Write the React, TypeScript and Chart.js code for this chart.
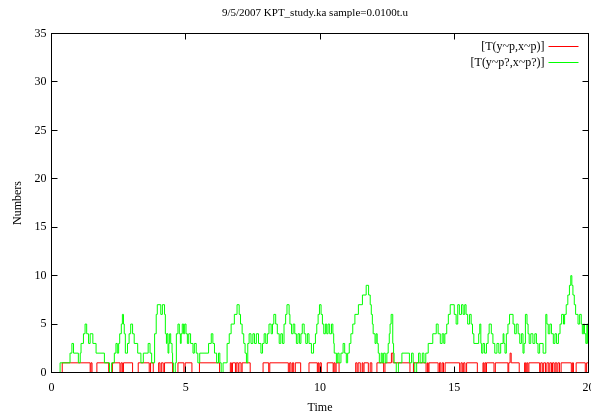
import React, { useEffect, useRef } from "react";
import { Chart, registerables } from "chart.js";

Chart.register(...registerables);

const chartTitle = "9/5/2007 KPT_study.ka sample=0.0100t.u";
const xAxisTitle = "Time";
const yAxisTitle = "Numbers";
const seriesNames = ["[T(y~p,x~p)]", "[T(y~p?,x~p?)]"];
const seriesColors = ["#ff0000", "#00ff00"];
const xTickValues = [0, 5, 10, 15, 20];
const yTickValues = [0, 5, 10, 15, 20, 25, 30, 35];
const xMax = 20;

const redTimes = [
  0, 0.4, 1.44, 1.47, 1.51, 1.69, 2.13, 2.27, 2.55, 2.59,
  2.64, 2.68, 3.02, 3.23, 3.64, 3.69, 3.79, 3.99, 4.04, 4.09,
  4.16, 4.21, 4.51, 4.71, 4.93, 4.98, 5.23, 5.51, 6.26, 6.66,
  6.7, 6.74, 6.85, 6.88, 6.95, 6.98, 7.06, 7.1, 7.4, 7.88,
  8.09, 8.13, 8.82, 8.87, 8.92, 8.97, 9.02, 9.08, 9.28, 9.59,
  9.9, 9.93, 9.96, 10.0, 10.05, 10.27, 10.49, 10.52, 10.56, 10.6,
  10.71, 11.33, 11.38, 11.42, 11.5, 11.57, 11.6, 11.64, 11.8, 11.87,
  11.93, 12.12, 12.37, 12.42, 12.66, 12.72, 13.35, 13.48, 13.95, 14.0,
  14.03, 14.06, 14.4, 14.45, 14.5, 14.55, 14.6, 14.66, 15.2, 15.25,
  15.3, 15.35, 15.4, 15.46, 15.86, 16.07, 16.1, 16.14, 16.18, 16.2,
  16.48, 16.53, 17.0, 17.03, 17.08, 17.12, 17.42, 17.62, 17.66, 17.7,
  17.74, 17.78, 18.18, 18.22, 18.28, 18.33, 18.4, 18.45, 18.52, 18.56,
  18.62, 18.66, 18.72, 18.76, 18.82, 18.86, 18.92, 18.98, 19.36, 19.4,
  19.44, 19.54, 19.88, 19.93,
];
const redValues = [
  0, 1, 0, 1, 0, 1, 0, 1, 0, 1,
  0, 1, 0, 1, 0, 1, 0, 1, 0, 1,
  0, 1, 0, 1, 0, 1, 0, 1, 0, 1,
  0, 1, 0, 1, 0, 1, 0, 1, 0, 1,
  0, 1, 0, 1, 0, 1, 0, 1, 0, 1,
  0, 1, 0, 1, 0, 1, 0, 1, 0, 1,
  0, 1, 0, 1, 0, 1, 0, 1, 0, 1,
  0, 1, 0, 1, 2, 1, 0, 1, 0, 1,
  0, 1, 0, 1, 0, 1, 0, 1, 0, 1,
  0, 1, 0, 1, 0, 1, 0, 1, 0, 1,
  0, 1, 0, 1, 2, 1, 0, 1, 0, 1,
  0, 1, 0, 1, 0, 1, 0, 1, 0, 1,
  0, 1, 0, 1, 0, 1, 0, 1, 0, 1,
  0, 1, 0, 1,
];

const greenTimes = [
  0, 0.32, 0.69, 0.76, 0.82, 1.0, 1.07, 1.1, 1.19, 1.25,
  1.31, 1.38, 1.44, 1.54, 1.66, 1.97, 2.16, 2.24, 2.34, 2.4,
  2.45, 2.5, 2.54, 2.6, 2.64, 2.68, 2.71, 2.75, 2.83, 2.89,
  2.95, 3.02, 3.08, 3.21, 3.33, 3.42, 3.6, 3.67, 3.73, 3.84,
  3.9, 3.94, 4.07, 4.13, 4.21, 4.24, 4.28, 4.3, 4.34, 4.37,
  4.4, 4.44, 4.49, 4.51, 4.54, 4.61, 4.65, 4.71, 4.76, 4.8,
  4.83, 4.87, 4.92, 4.96, 5.01, 5.06, 5.11, 5.18, 5.27, 5.32,
  5.39, 5.45, 5.52, 5.85, 5.95, 6.01, 6.07, 6.15, 6.22, 6.27,
  6.32, 6.39, 6.54, 6.62, 6.69, 6.81, 6.91, 6.99, 7.04, 7.1,
  7.16, 7.21, 7.26, 7.31, 7.36, 7.43, 7.5, 7.56, 7.63, 7.71,
  7.8, 7.86, 7.92, 7.98, 8.04, 8.1, 8.18, 8.23, 8.28, 8.35,
  8.41, 8.48, 8.54, 8.6, 8.66, 8.72, 8.77, 8.85, 8.88, 8.94,
  9.0, 9.06, 9.12, 9.18, 9.24, 9.29, 9.34, 9.41, 9.47, 9.53,
  9.59, 9.68, 9.76, 9.83, 9.88, 9.93, 9.98, 10.04, 10.09, 10.14,
  10.2, 10.25, 10.3, 10.36, 10.43, 10.48, 10.51, 10.53, 10.61, 10.66,
  10.71, 10.78, 10.86, 10.92, 10.98, 11.03, 11.09, 11.15, 11.22, 11.3,
  11.43, 11.58, 11.72, 11.81, 11.87, 11.91, 11.95, 11.98, 12.05, 12.09,
  12.13, 12.17, 12.21, 12.28, 12.32, 12.37, 12.43, 12.49, 12.54, 12.58,
  12.61, 12.65, 12.71, 12.74, 12.76, 12.84, 12.92, 13.05, 13.33, 13.41,
  13.47, 13.53, 13.6, 13.67, 13.73, 13.81, 13.87, 13.94, 14.03, 14.2,
  14.33, 14.4, 14.48, 14.55, 14.61, 14.65, 14.72, 14.78, 14.85, 15.0,
  15.07, 15.13, 15.19, 15.27, 15.33, 15.39, 15.44, 15.5, 15.57, 15.63,
  15.68, 15.73, 15.91, 15.95, 15.99, 16.02, 16.07, 16.13, 16.2, 16.26,
  16.3, 16.38, 16.44, 16.51, 16.59, 16.66, 16.73, 16.82, 16.85, 16.89,
  16.94, 17.0, 17.06, 17.19, 17.25, 17.31, 17.38, 17.44, 17.5, 17.56,
  17.6, 17.65, 17.71, 17.75, 17.79, 17.85, 17.93, 18.0, 18.06, 18.12,
  18.18, 18.31, 18.41, 18.45, 18.5, 18.56, 18.62, 18.69, 18.75, 18.81,
  18.88, 18.94, 19.0, 19.07, 19.11, 19.17, 19.23, 19.29, 19.34, 19.38,
  19.42, 19.47, 19.52, 19.61, 19.67, 19.73, 19.77, 19.82, 19.85, 19.9,
  19.94, 19.97,
];
const greenValues = [
  0, 1, 2, 3, 2, 1, 2, 3, 4, 5,
  4, 3, 4, 3, 2, 1, 0, 1, 2, 3,
  2, 3, 4, 5, 6, 5, 4, 2, 3, 4,
  5, 4, 3, 2, 1, 2, 3, 2, 1, 4,
  6, 7, 6, 7, 6, 4, 3, 4, 2, 3,
  4, 3, 2, 1, 0, 1, 4, 5, 4, 3,
  4, 5, 4, 5, 4, 3, 4, 3, 2, 3,
  2, 1, 2, 3, 4, 3, 2, 1, 2, 1,
  0, 1, 3, 4, 5, 6, 7, 6, 5, 4,
  3, 2, 1, 3, 4, 3, 4, 3, 4, 3,
  2, 3, 4, 3, 4, 5, 4, 5, 6, 5,
  4, 3, 4, 3, 5, 6, 7, 6, 5, 4,
  5, 4, 3, 4, 3, 4, 5, 4, 3, 4,
  3, 2, 3, 4, 5, 6, 7, 6, 5, 4,
  5, 4, 5, 4, 5, 4, 3, 2, 1, 2,
  1, 2, 3, 2, 1, 2, 3, 4, 5, 6,
  7, 8, 9, 8, 7, 6, 5, 4, 3, 4,
  3, 2, 1, 2, 1, 2, 1, 2, 3, 4,
  5, 6, 3, 2, 1, 0, 1, 2, 1, 2,
  1, 0, 1, 2, 1, 2, 1, 2, 3, 4,
  5, 4, 3, 4, 3, 4, 5, 6, 7, 6,
  5, 7, 6, 7, 6, 7, 6, 5, 6, 5,
  4, 3, 4, 5, 3, 2, 3, 2, 3, 4,
  5, 4, 3, 2, 3, 2, 3, 4, 3, 2,
  4, 5, 6, 5, 4, 5, 4, 3, 4, 2,
  3, 6, 5, 4, 3, 4, 3, 4, 3, 2,
  3, 2, 6, 5, 4, 5, 4, 3, 4, 3,
  4, 5, 6, 5, 6, 7, 8, 9, 10, 9,
  8, 7, 6, 5, 6, 5, 4, 5, 4, 3,
  5, 3,
];

const FONT_FAMILY = '"Liberation Serif", "DejaVu Serif", serif';

function toPoints(times: number[], values: number[]) {
  const pts = times.map((t, i) => ({ x: t, y: values[i] }));
  pts.push({ x: xMax, y: values[values.length - 1] });
  return pts;
}

const framePlugin = {
  id: "gnuplotFrame",
  afterDatasetsDraw(chart: any) {
    const { ctx, chartArea, scales } = chart;
    const { left, top, right, bottom } = chartArea;
    const xs = scales.x;
    const ys = scales.y;
    ctx.save();
    ctx.strokeStyle = "#000";
    ctx.lineWidth = 1;
    ctx.strokeRect(left, top, right - left, bottom - top);
    ctx.beginPath();
    xTickValues.forEach((v) => {
      const px = Math.round(xs.getPixelForValue(v) - 0.5) + 0.5;
      ctx.moveTo(px, bottom);
      ctx.lineTo(px, bottom - 6);
      ctx.moveTo(px, top);
      ctx.lineTo(px, top + 6);
    });
    yTickValues.forEach((v) => {
      const py = Math.round(ys.getPixelForValue(v) - 0.5) + 0.5;
      ctx.moveTo(left, py);
      ctx.lineTo(left + 6, py);
      ctx.moveTo(right, py);
      ctx.lineTo(right - 6, py);
    });
    ctx.stroke();

    ctx.fillStyle = "#000";
    ctx.font = `11px ${FONT_FAMILY}`;
    ctx.textAlign = "center";
    ctx.textBaseline = "middle";
    ctx.fillText(chartTitle, 315, 13);

    ctx.font = `12px ${FONT_FAMILY}`;
    ctx.textAlign = "right";
    seriesNames.forEach((name, i) => {
      const ly = 46.5 + 16 * i;
      ctx.fillStyle = "#000";
      ctx.fillText(name, right - 44, ly);
      ctx.strokeStyle = seriesColors[i];
      ctx.beginPath();
      ctx.moveTo(right - 40, ly);
      ctx.lineTo(right - 10, ly);
      ctx.stroke();
    });
    ctx.restore();
  },
};

export default function App() {
  const canvasRef = useRef<HTMLCanvasElement | null>(null);

  useEffect(() => {
    if (!canvasRef.current) return;
    const font = { family: FONT_FAMILY, size: 12 };
    const chart = new Chart(canvasRef.current, {
      type: "line",
      data: {
        datasets: [
          {
            label: seriesNames[0],
            data: toPoints(redTimes, redValues),
            borderColor: seriesColors[0],
            borderWidth: 1,
            pointRadius: 0,
            stepped: "before",
            fill: false,
            order: 2,
          },
          {
            label: seriesNames[1],
            data: toPoints(greenTimes, greenValues),
            borderColor: seriesColors[1],
            borderWidth: 1,
            pointRadius: 0,
            stepped: "before",
            fill: false,
            order: 1,
          },
        ],
      },
      options: {
        animation: false,
        responsive: false,
        devicePixelRatio: 1,
        parsing: false,
        normalized: true,
        layout: { padding: { top: 33.5, right: 2.5, left: 0, bottom: 0 } },
        plugins: {
          legend: { display: false },
          title: { display: false },
          tooltip: { enabled: false },
        },
        scales: {
          x: {
            type: "linear",
            min: 0,
            max: xMax,
            afterBuildTicks: (s: any) => {
              s.ticks = xTickValues.map((v) => ({ value: v }));
            },
            afterFit: (s: any) => {
              s.height = 44.5;
              s.paddingLeft = 0;
              s.paddingRight = 0;
            },
            grid: { display: false, drawTicks: false },
            border: { display: false },
            ticks: {
              font,
              color: "#000",
              padding: 8,
              maxRotation: 0,
              autoSkip: false,
              callback: (v: any) => String(v),
            },
            title: {
              display: true,
              text: xAxisTitle,
              font,
              color: "#000",
              padding: { top: 0, bottom: 2 },
            },
          },
          y: {
            type: "linear",
            min: 0,
            max: 35,
            afterBuildTicks: (s: any) => {
              s.ticks = yTickValues.map((v) => ({ value: v }));
            },
            afterFit: (s: any) => {
              s.width = 51.5;
              s.paddingTop = 0;
              s.paddingBottom = 0;
            },
            grid: { display: false, drawTicks: false },
            border: { display: false },
            ticks: {
              font,
              color: "#000",
              padding: 5,
              autoSkip: false,
              callback: (v: any) => String(v),
            },
            title: {
              display: true,
              text: yAxisTitle,
              font,
              color: "#000",
              padding: { top: 11, bottom: 0 },
            },
          },
        },
      },
      plugins: [framePlugin],
    } as any);
    return () => chart.destroy();
  }, []);

  return (
    <div style={{ position: "fixed", left: 0, top: 0, width: 591, height: 417, background: "#fff" }}>
      <canvas ref={canvasRef} width={591} height={417} style={{ display: "block" }} />
    </div>
  );
}
